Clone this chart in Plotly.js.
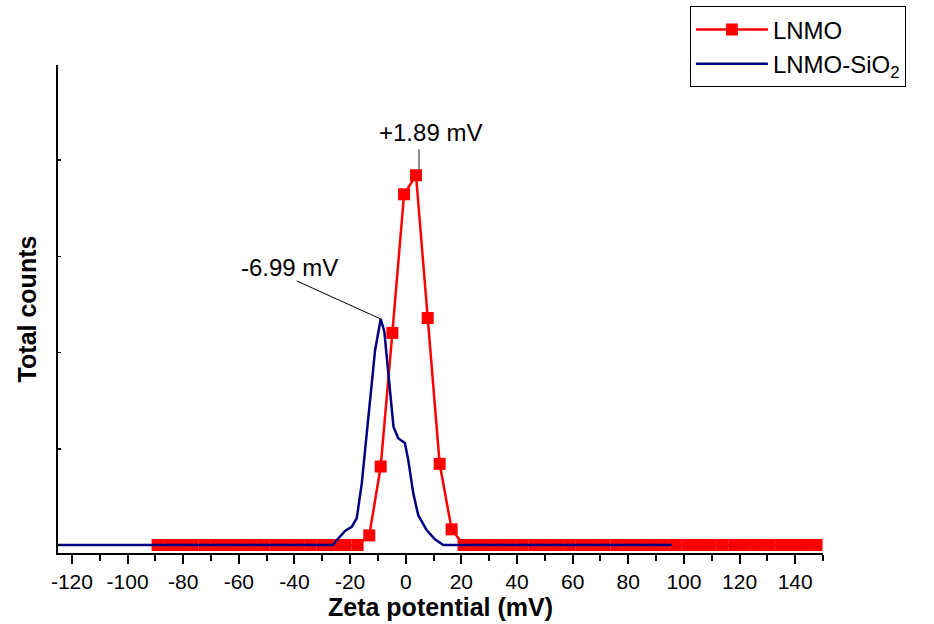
<!DOCTYPE html>
<html>
<head>
<meta charset="utf-8">
<script src="https://cdn.plot.ly/plotly-3.0.1.min.js"></script>
<style>html,body{margin:0;padding:0;background:#fff;}#chart{width:934px;height:624px;}</style>
</head>
<body>
<div id="chart"></div>
<script>
// LNMO (red, square markers)
const lnmoX = [-89.2, -85.0, -80.8, -76.6, -72.3, -68.1, -63.9, -59.6, -55.4, -51.2, -46.9, -42.7, -38.5, -34.3, -30.0, -25.8, -21.6, -17.3,
  -13.1, -9.0, -4.8, -0.6, 3.7, 7.9, 12.2, 16.5,
  20.8, 25.0, 29.2, 33.5, 37.7, 41.9, 46.2, 50.4, 54.6, 58.8, 63.1, 67.3, 71.5, 75.8, 80.0, 84.2, 88.5, 92.7, 96.9, 101.2, 105.4, 109.6, 113.8, 118.1, 122.3, 126.6, 130.8, 135.0, 139.2, 143.5, 147.7];
const lnmoY = [0, 0, 0, 0, 0, 0, 0, 0, 0, 0, 0, 0, 0, 0, 0, 0, 0, 0,
  0.10, 0.816, 2.205, 3.646, 3.844, 2.36, 0.844, 0.163,
  0, 0, 0, 0, 0, 0, 0, 0, 0, 0, 0, 0, 0, 0, 0, 0, 0, 0, 0, 0, 0, 0, 0, 0, 0, 0, 0, 0, 0, 0, 0];
// LNMO-SiO2 (navy line)
const sioX = [-125, -26.1, -24.8, -21.8, -19.4, -17.6, -15.8, -14.0, -12.2, -11.0, -10.1, -9.0, -7.7, -6.6, -5.6, -4.4, -2.7, -0.3, 0.9, 2.7, 4.5, 7.5, 10.5, 13.5, 95.6];
const sioY = [0, 0, 0.05, 0.146, 0.19, 0.28, 0.64, 1.16, 1.68, 2.03, 2.17, 2.35, 2.22, 1.89, 1.54, 1.23, 1.11, 1.06, 0.885, 0.54, 0.31, 0.156, 0.06, 0, 0];

const seriesNames = ['LNMO', 'LNMO-SiO<sub>2</sub>'];
const xTickVals = [-120, -100, -80, -60, -40, -20, 0, 20, 40, 60, 80, 100, 120, 140];
const xTickText = ['-120', '-100', '-80', '-60', '-40', '-20', '0', '20', '40', '60', '80', '100', '120', '140'];
const annoTexts = ['+1.89 mV', '-6.99 mV'];

const FONT = 'Liberation Sans, Arial, sans-serif';

const lnmoPeak = lnmoY.indexOf(Math.max(...lnmoY));
const sioPeak = sioY.indexOf(Math.max(...sioY));

const traces = [
  {
    x: lnmoX, y: lnmoY, name: seriesNames[0], type: 'scatter', mode: 'lines+markers',
    line: {color: '#ff0000', width: 2.5},
    marker: {symbol: 'square', size: 12, color: '#ff0000'}
  },
  {
    x: sioX, y: sioY, name: seriesNames[1], type: 'scatter', mode: 'lines',
    line: {color: '#000080', width: 2.5}
  }
];

const layout = {
  width: 934, height: 624,
  margin: {l: 58, r: 111, t: 65, b: 71, autoexpand: false},
  paper_bgcolor: '#fff', plot_bgcolor: '#fff',
  font: {family: FONT, color: '#000'},
  showlegend: true,
  legend: {
    x: 0.826, y: 1.12, xanchor: 'left', yanchor: 'top',
    bgcolor: '#fff', bordercolor: '#000', borderwidth: 1,
    font: {family: FONT, size: 24, color: '#000'},
    itemwidth: 72, tracegroupgap: 0
  },
  xaxis: {
    range: [-125, 150], showgrid: false, zeroline: false,
    showline: true, linecolor: '#000', linewidth: 2,
    ticks: 'outside', ticklen: 9, tickwidth: 2, tickcolor: '#000',
    tickvals: xTickVals, ticktext: xTickText,
    minor: {dtick: 10, tick0: 0, ticks: 'outside', ticklen: 6, tickwidth: 2, tickcolor: '#000', showgrid: false},
    tickfont: {family: FONT, size: 21, color: '#000'},
    title: {text: '<b>Zeta potential (mV)</b>', font: {family: FONT, size: 25, color: '#000'}, standoff: 6}
  },
  yaxis: {
    range: [-0.083, 4.99], showgrid: false, zeroline: false,
    showline: true, linecolor: '#000', linewidth: 2,
    ticks: 'inside', ticklen: 3, tickwidth: 1.5, tickcolor: '#000',
    dtick: 1, tick0: 0, showticklabels: false,
    title: {text: '<b>Total counts</b>', font: {family: FONT, size: 25, color: '#000'}, standoff: 12}
  },
  shapes: [
    {type: 'line', xref: 'x', yref: 'y', xsizemode: 'pixel', ysizemode: 'pixel',
     xanchor: lnmoX[lnmoPeak], yanchor: lnmoY[lnmoPeak], x0: 3, x1: 3, y0: 5, y1: 26,
     line: {color: '#444', width: 1.2}},
    {type: 'line', xref: 'x', yref: 'y', xsizemode: 'pixel', ysizemode: 'pixel',
     xanchor: sioX[sioPeak], yanchor: sioY[sioPeak], x0: 0, x1: -84, y0: 0, y1: 38,
     line: {color: '#000', width: 1}}
  ],
  annotations: [
    {x: lnmoX[lnmoPeak], y: lnmoY[lnmoPeak], text: annoTexts[0], showarrow: false,
     xshift: 14, yshift: 43, font: {family: FONT, size: 24, color: '#000'}},
    {x: sioX[sioPeak], y: sioY[sioPeak], text: annoTexts[1], showarrow: false,
     xshift: -91, yshift: 51, font: {family: FONT, size: 24, color: '#000'}}
  ]
};

Plotly.newPlot('chart', traces, layout, {displayModeBar: false, staticPlot: true});
</script>
</body>
</html>
